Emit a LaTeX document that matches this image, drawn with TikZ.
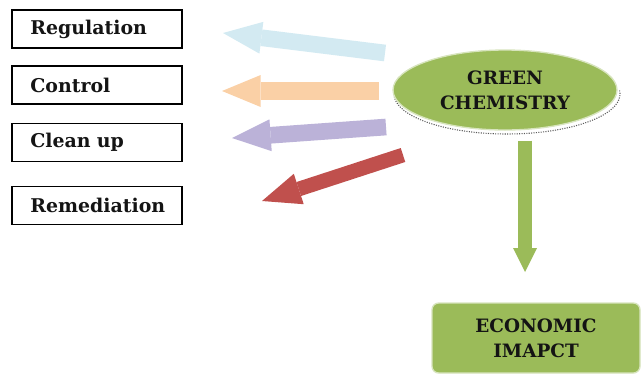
\documentclass[tikz,border=0pt]{standalone}
\usepackage{fontspec}
\setmainfont{DejaVu Serif}
\usetikzlibrary{arrows.meta,shapes.geometric}

\definecolor{leafgreen}{HTML}{9BBB59}
\definecolor{skyblue}{HTML}{D3EAF2}
\definecolor{peach}{HTML}{FAD0A6}
\definecolor{lilac}{HTML}{BBB2D8}
\definecolor{brick}{HTML}{C0504D}
\definecolor{inktext}{HTML}{141414}

\tikzset{
  labelbox/.style={draw, line width=0.9pt, rectangle, minimum width=127.5pt, minimum height=28.5pt,
    text width=100pt, inner xsep=13pt, align=left, text=inktext,
    font=\fontsize{14.2}{16}\selectfont\bfseries},
  greenshape/.style={fill=leafgreen, draw=leafgreen!40, line width=1pt, text=inktext,
    align=center, font=\fontsize{13.8}{19}\selectfont\bfseries},
  fatarrow/.style={line width=#1, -{Triangle[length=29pt,width=24pt,line width=0pt]}},
  shadowline/.style={densely dotted, black!65, line width=0.8pt}
}

\begin{document}
\begin{tikzpicture}[x=0.75pt,y=0.75pt,yscale=-1,xscale=1]
	\useasboundingbox (0,0) rectangle (641,376);
	% the four boxes on the left
	\node[labelbox] (reg) at (97,29) {Regulation};
	\node[labelbox] (ctrl) at (97,85) {Control};
	\node[labelbox] (clean) at (97,142.5) {Clean up};
	\node[labelbox] (remed) at (97,205.5) {Remediation};
	% green chemistry
	\draw[shadowline] (507,94) ++(-113,0) arc[start angle=180, end angle=-5, x radius=113, y radius=40];
	\node[greenshape, ellipse, minimum width=168pt, minimum height=60pt] (gc) at (505,90) {GREEN\\CHEMISTRY};
	\node[greenshape, rounded corners=5pt, minimum width=156pt, minimum height=52.5pt] (econ) at (536,338) {ECONOMIC\\IMAPCT};
	% arrow ends
	\coordinate (t1) at (385,53);
	\coordinate (h1) at (223,33);
	\coordinate (t2) at (379,91);
	\coordinate (h2) at (222,91);
	\coordinate (t3) at (386,127);
	\coordinate (h3) at (232,138);
	\coordinate (t4) at (403,155);
	\coordinate (h4) at (262,201);
	\coordinate (h5) at (525,272);
	\draw[fatarrow=12.5pt, skyblue] (t1) -- (h1);
	\draw[fatarrow=13.5pt, peach] (t2) -- (h2);
	\draw[fatarrow=12.5pt, lilac] (t3) -- (h3);
	\draw[fatarrow=11pt, brick] (t4) -- (h4);
	\draw[line width=10.5pt, leafgreen, -{Triangle[length=18pt,width=18pt,line width=0pt]}] (gc.south -| h5) ++(0,10) -- (h5);
\end{tikzpicture}
\end{document}
